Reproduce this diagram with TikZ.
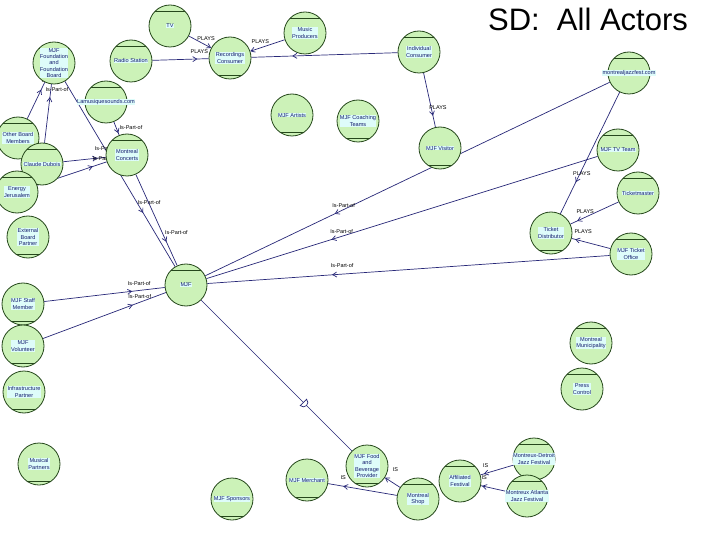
\documentclass[tikz,border=0pt]{standalone}
\usepackage{fontspec}
\setmainfont{Liberation Sans}
\usetikzlibrary{arrows.meta,decorations.markings}
\pgfdeclarelayer{bg}
\pgfdeclarelayer{paper}
\pgfsetlayers{paper,bg,main}
\definecolor{nodefill}{RGB}{204,242,184}
\definecolor{nodeline}{RGB}{38,72,28}
\definecolor{txtfill}{RGB}{222,252,250}
\definecolor{txtc}{RGB}{20,30,110}
\definecolor{edgec}{RGB}{40,40,120}
\tikzset{
 actor/.style={circle, draw=nodeline, fill=nodefill, line width=0.8pt, minimum size=42pt, inner sep=0pt},
 chord/.style={draw=nodeline, line width=0.8pt},
 albl/.style={fill=txtfill, text=txtc, font=\fontsize{5.6}{6.3}\selectfont, align=center, inner sep=0.4pt},
 link/.style={draw=edgec, line width=0.7pt},
 elbl/.style={font=\fontsize{5.5}{6}\selectfont, text=black, inner sep=0.5pt},
 endarr/.style={-{Straight Barb[length=4pt,width=5pt]}},
 amark/.style={postaction={decorate}, decoration={markings, mark=at position #1 with {\arrow[edgec]{Straight Barb[length=4pt,width=5pt]}}}},
 dmark/.style={postaction={decorate}, decoration={markings, mark=at position #1 with {\draw[edgec, line width=0.7pt, fill=white] (-2.5pt,-4.5pt) -- (-2.5pt,4.5pt) arc (90:-90:4.5pt) -- cycle;}}},
}
\newcommand\actT[4]{\node[actor] (#1) at (#2,#3) {};
 \draw[chord] ({#2-14.7},{#3-15}) -- ({#2+14.7},{#3-15});
 \node[albl] (#1-t) at (#1) {#4};}
\newcommand\actB[4]{\node[actor] (#1) at (#2,#3) {};
 \draw[chord] ({#2-12.3},{#3+17}) -- ({#2+12.3},{#3+17});
 \node[albl] (#1-t) at (#1) {#4};}
\begin{document}
\begin{tikzpicture}[x=1pt,y=-1pt]
\begin{pgfonlayer}{paper}
\fill[white] (0,0) rectangle (720,540);
\end{pgfonlayer}
\useasboundingbox (0,0) rectangle (720,540);
\node[font=\fontsize{31}{31}\selectfont, anchor=base] (title) at (588,30.5) {SD:\ \ All Actors};
% actors
\actT{tv}{170}{26}{TV}
\actT{musprod}{305}{33}{Music\\Producers}
\actB{reccons}{230}{58}{Recordings\\Consumer}
\actT{indcons}{419}{52}{Individual\\Consumer}
\actT{radio}{131}{61}{Radio Station}
\actT{found}{54}{63}{MJF\\Foundation\\and\\Foundation\\Board}
\actT{lamus}{106}{102}{Lamusiquesounds.com}
\actT{montconc}{127}{155}{Montreal\\Concerts}
\actB{artists}{292}{115}{MJF Artists}
\actB{coach}{358}{121}{MJF Coaching\\Teams}
\actB{visitor}{440}{148}{MJF Visitor}
\actT{mjfcom}{629}{73}{montrealjazzfest.com}
\actT{mjftv}{618}{150}{MJF TV Team}
\actT{tm}{638}{193}{Ticketmaster}
\actB{tdist}{551}{233}{Ticket\\Distributor}
\actT{toffice}{631}{254}{MJF Ticket\\Office}
\actT{other}{18}{138}{Other Board\\Members}
\actT{claude}{42}{164}{Claude Dubois}
\actT{jeru}{17}{192}{Energy\\Jerusalem}
\actB{ext}{28}{237}{External\\Board\\Partner}
\actT{mjf}{186}{285}{MJF}
\actB{staff}{23}{304}{MJF Staff\\Member}
\actB{vol}{23}{346}{MJF\\Volunteer}
\actB{infra}{24}{392}{Infrastructure\\Partner}
\actB{musical}{39}{464}{Musical\\Partners}
\actT{muni}{591}{343}{Montreal\\Municipality}
\actT{press}{582}{389}{Press\\Control}
\actB{sponsors}{232}{499}{MJF Sponsors}
\actB{merchant}{307}{480}{MJF Merchant}
\actB{food}{367}{466}{MJF Food\\and\\Beverage\\Provider}
\actT{shop}{418}{499}{Montreal\\Shop}
\actT{affil}{460}{481}{Affiliated\\Festival}
\actT{detroit}{534}{459}{Montreux-Detroit\\Jazz Festival}
\actT{atlanta}{527}{496}{Montreux Atlanta\\Jazz Festival}
% connectors
\begin{pgfonlayer}{bg}
\draw[link, endarr] (tv) -- (reccons) node[elbl, pos=1, xshift=-5pt, yshift=9pt] {PLAYS};
\draw[link, amark=0.8] (radio) -- (reccons) node[elbl, pos=0.8, xshift=2pt, yshift=7pt] {PLAYS};
\draw[link, endarr] (musprod) -- (reccons) node[elbl, pos=1, xshift=10pt, yshift=10pt] {PLAYS};
\draw[link, amark=0.72] (indcons) -- (reccons);
\draw[link, amark=0.79] (indcons) -- (visitor) node[elbl, pos=0.79, xshift=5pt, yshift=8pt] {PLAYS};
\draw[link, amark=0.8] (other) -- (found) node[elbl, pos=0.8, xshift=12pt, yshift=9pt] {Is-Part-of};
\draw[link, amark=0.78] (claude) -- (found) node[elbl, pos=0.78, xshift=7pt, yshift=8pt] {Is-Part-of};
\draw[link, amark=0.71] (found) -- (mjf) node[elbl, pos=0.71, xshift=6pt, yshift=10pt] {Is-Part-of};
\draw[link, amark=0.85] (lamus) -- (montconc) node[elbl, pos=0.6, xshift=14pt, yshift=2pt] {Is-Part-of};
\draw[link, amark=0.74] (montconc) -- (mjf) node[elbl, pos=0.74, xshift=10pt, yshift=9pt] {Is-Part-of};
\draw[link, amark=0.8] (claude) -- (montconc) node[elbl, pos=0.8, xshift=9pt, yshift=10pt] {Is-Part-of};
\draw[link, amark=0.8] (jeru) -- (montconc) node[elbl, pos=0.8, xshift=11pt, yshift=8pt] {Is-Part-of};
\draw[link, amark=0.73] (staff) -- (mjf) node[elbl, pos=0.73, xshift=7pt, yshift=8pt] {Is-Part-of};
\draw[link, amark=0.73] (vol) -- (mjf) node[elbl, pos=0.73, xshift=7pt, yshift=8pt] {Is-Part-of};
\draw[link, amark=0.68] (mjfcom) -- (mjf) node[elbl, pos=0.68, xshift=9pt, yshift=8pt] {Is-Part-of};
\draw[link, amark=0.68] (mjftv) -- (mjf) node[elbl, pos=0.68, xshift=10pt, yshift=8pt] {Is-Part-of};
\draw[link, amark=0.69] (toffice) -- (mjf) node[elbl, pos=0.69, xshift=10pt, yshift=9pt] {Is-Part-of};
\draw[link, amark=0.74] (mjfcom) -- (tdist) node[elbl, pos=0.74, xshift=6pt, yshift=9pt] {PLAYS};
\draw[link, amark=0.86] (tm) -- (tdist) node[elbl, pos=0.86, xshift=8pt, yshift=9pt] {PLAYS};
\draw[link, amark=0.91] (toffice) -- (tdist) node[elbl, pos=0.91, xshift=8pt, yshift=8pt] {PLAYS};
\draw[link, dmark=0.69] (mjf) -- (food);
\draw[link, amark=0.78] (shop) -- (merchant) node[elbl, pos=0.78, xshift=0pt, yshift=9pt] {IS};
\draw[link, endarr] (shop) -- (food) node[elbl, pos=0.5, xshift=3pt, yshift=13pt] {IS};
\draw[link, amark=0.9] (detroit) -- (affil) node[elbl, pos=0.9, xshift=2pt, yshift=8pt] {IS};
\draw[link, amark=0.95] (atlanta) -- (affil) node[elbl, pos=0.95, xshift=2pt, yshift=8pt] {IS};
\end{pgfonlayer}
\end{tikzpicture}
\end{document}
